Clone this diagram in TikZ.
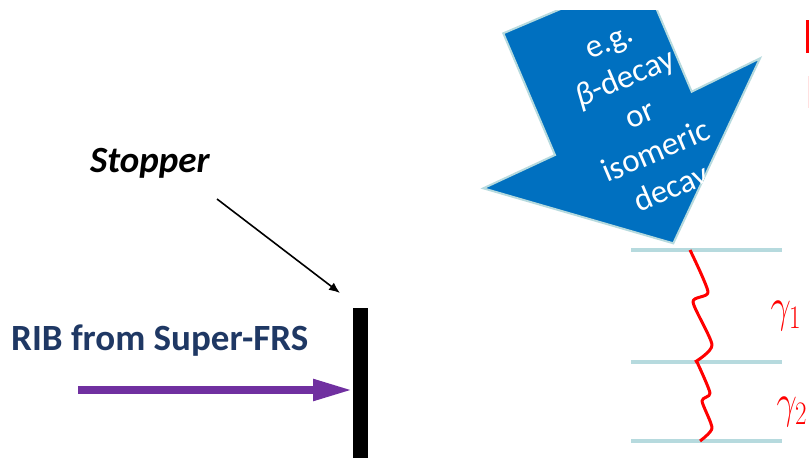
\documentclass[tikz,border=0pt]{standalone}
\usepackage{fontspec}
\setmainfont{Carlito}
\usetikzlibrary{arrows.meta,calc}
\definecolor{ribblue}{RGB}{31,56,100}
\definecolor{beampurple}{RGB}{112,48,160}
\definecolor{decayblue}{RGB}{0,112,192}
\definecolor{rimblue}{RGB}{182,218,222}

\begin{document}
\begin{tikzpicture}[x=1pt,y=-1pt,
  level/.style={rimblue,line width=4pt},
  gammaline/.style={red,line width=3pt,line join=round},
  gammalabel/.style={text=red,font=\fontsize{25}{30}\selectfont,xscale=1.45,yscale=1.9}]
\useasboundingbox (0,0) rectangle (809,458);
\clip (0,0) rectangle (809,458);
\node[anchor=base west,inner sep=0,text=ribblue,font=\fontsize{37}{44}\selectfont\bfseries] (rib) at (11,350) {RIB from Super-FRS};
\node[anchor=base west,inner sep=0,font=\fontsize{37}{44}\selectfont\bfseries\itshape] (stopper) at (90,172) {Stopper};
\node[fill=black,inner sep=0,minimum width=15pt,minimum height=170pt,anchor=north west] (bar) at (353,308) {};
\coordinate (ribstart) at (78,390);
\coordinate (stoptail) at (217,199);
\draw[line width=1.6pt,-{Latex[length=11pt,width=9pt]}] (stoptail) -- ($(bar.north west)+(-13,-15)$);
\draw[beampurple,line width=8pt,-{Triangle[length=40pt,width=20pt]}] (ribstart) -- (ribstart -| bar.west);
\begin{scope}
\clip (0,10) rectangle (809,458);
\draw[rimblue,line width=2pt,fill=decayblue,line join=miter] (503.3,33.3) -- (555,155) -- (483.3,188.3) -- (673.3,243.3) -- (760,58.3) -- (691.7,91.7) -- (641.9,-25.5) -- cycle;
\clip (503.3,33.3) -- (555,155) -- (483.3,188.3) -- (673.3,243.3) -- (760,58.3) -- (691.7,91.7) -- (641.9,-25.5) -- cycle;
\node[rotate=23,text=white,align=center,font=\fontsize{33}{40}\selectfont] (decay) at (642,119) {e.g.\\\textit{β}-decay\\or\\isomeric\\decay};
\end{scope}
\foreach \y/\n in {250/lvla,362/lvlb,441/lvlc}
  \draw[level] (631,\y) coordinate (\n) -- (782,\y);
\draw[gammaline] plot[smooth,tension=0.4] coordinates {(690,250) (708,292) (693,302) (712,345) (695,362)};
\draw[gammaline] plot[smooth,tension=0.4] coordinates {(697,362) (710,393) (702,401) (712,428) (700,441)};
\node[gammalabel] (g1) at (786,316) {$\gamma_1$};
\node[gammalabel] (g2) at (792,412) {$\gamma_2$};
\fill[red] (806,20) rectangle (809,53);
\fill[red!12] (808,76) rectangle (809,108);
\end{tikzpicture}
\end{document}
